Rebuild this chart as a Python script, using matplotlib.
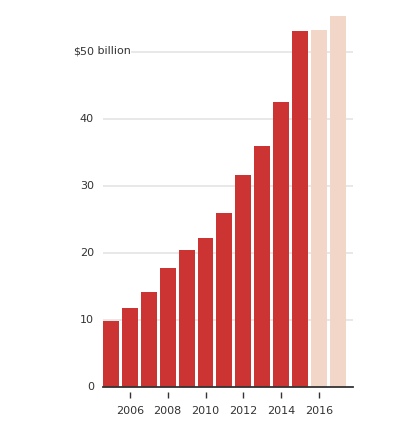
import matplotlib
matplotlib.use("Agg")
import matplotlib.pyplot as plt
import matplotlib.transforms as mtransforms

years = [2005, 2006, 2007, 2008, 2009, 2010, 2011, 2012, 2013, 2014, 2015, 2016, 2017]
values = [9.9, 11.7, 14.2, 17.8, 20.4, 22.2, 26.0, 31.6, 35.9, 42.4, 53.0, 53.2, 55.3]
projected = [False] * 11 + [True, True]
ytick_vals = [0, 10, 20, 30, 40, 50]
xtick_years = [2006, 2008, 2010, 2012, 2014, 2016]

RED = "#cc3333"
PEACH = "#f2d6c7"
TEXT = "#333333"
GRID = "#e6e6e6"

fig = plt.figure(figsize=(3.98, 4.24), dpi=100)
ax = fig.add_axes([103 / 398, 1 - 387 / 424, 250 / 398, 377 / 424])
ppu = 6.71  # pixels per unit
ax.set_ylim(0, 377 / ppu)
px_year = 18.9
ax.set_xlim(2005 - 8 / px_year, 2005 + 242 / px_year)

colors = [PEACH if p else RED for p in projected]
ax.bar(years, values, width=16 / px_year, color=colors, zorder=2, linewidth=0)

# gridlines
ytrans = ax.get_yaxis_transform()
for v in ytick_vals[1:]:
    xmin = (132 - 103) / 250 if v == 50 else 0
    ax.plot([xmin, 1], [v, v], transform=ytrans, color=GRID, lw=1.3, zorder=1)
# baseline
ax.plot([0, 1], [0, 0], transform=ytrans, color=TEXT, lw=1.3, zorder=3, clip_on=False)

# y labels
off = mtransforms.offset_copy(ytrans, fig=fig, x=-9, y=0, units="dots")
for v in ytick_vals:
    if v == 50:
        ax.text(0, v, "$50", transform=off, ha="right", va="center", fontsize=8, color=TEXT)
        ax.text(0, v, " billion", transform=off, ha="left", va="center", fontsize=8, color=TEXT)
    else:
        ax.text(0, v, str(v), transform=off, ha="right", va="center", fontsize=8, color=TEXT)

ax.set_yticks([])
for s in ["top", "right", "left", "bottom"]:
    ax.spines[s].set_visible(False)
ax.spines["bottom"].set_position(("outward", 3.5))
ax.set_xticks(xtick_years)
ax.set_xticklabels([str(y) for y in xtick_years])
ax.tick_params(axis="x", length=4.3, width=1, color=TEXT, labelsize=8, labelcolor=TEXT, pad=6)
ax.patch.set_alpha(0)

fig.savefig("out.png", dpi=100)
